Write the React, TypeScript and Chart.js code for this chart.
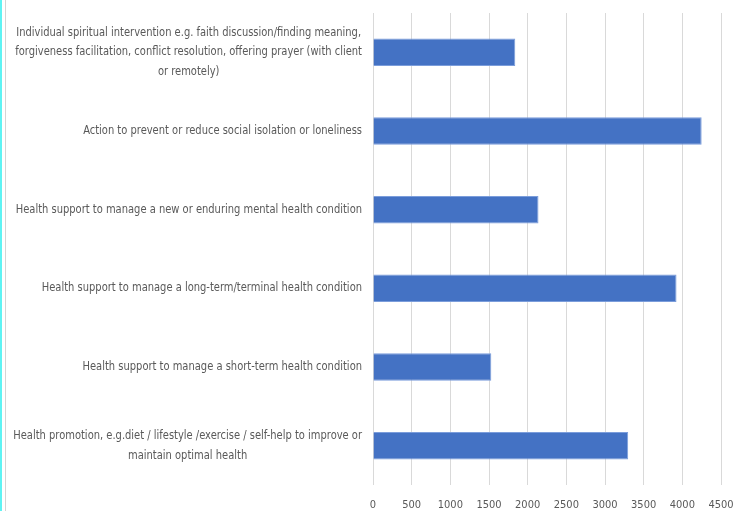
import React, { useEffect, useRef } from "react";
import { Chart, registerables } from "chart.js";

Chart.register(...registerables);

const categories: string[][] = [
  [
    "Individual spiritual intervention e.g. faith discussion/finding meaning,",
    "forgiveness facilitation, conflict resolution, offering prayer (with client",
    "or remotely)",
  ],
  ["Action to prevent or reduce social isolation or loneliness"],
  ["Health support to manage a new or enduring mental health condition"],
  ["Health support to manage a long-term/terminal health condition"],
  ["Health support to manage a short-term health condition"],
  [
    "Health promotion, e.g.diet / lifestyle /exercise / self-help to improve or",
    "maintain optimal health",
  ],
];

const counts: number[] = [1840, 4250, 2140, 3925, 1530, 3300];

const xTicks: number[] = [0, 500, 1000, 1500, 2000, 2500, 3000, 3500, 4000, 4500];

const FONT = "'DejaVu Sans Condensed', 'DejaVu Sans', sans-serif";
const TEXT = "#595959";
const H_SCALE = 0.92;

const labelPlugin = {
  id: "wrappedLabels",
  beforeDraw(chart: any) {
    const ctx = chart.ctx;
    ctx.save();
    ctx.fillStyle = "#5ff3f3";
    ctx.fillRect(0, 0, 2, chart.height);
    ctx.fillStyle = "#d4d4d4";
    ctx.fillRect(5, 0, 1, chart.height);
    ctx.restore();
  },
  afterDraw(chart: any) {
    const ctx = chart.ctx;
    const yScale = chart.scales.y;
    const rightEdge = yScale.right - 11;
    const lineH = 19.5;
    ctx.save();
    ctx.font = `12px ${FONT}`;
    ctx.fillStyle = TEXT;
    ctx.textBaseline = "middle";
    ctx.textAlign = "center";
    categories.forEach((lines, i) => {
      const yc = yScale.getPixelForTick(i);
      const widest = Math.max(...lines.map((l) => ctx.measureText(l).width)) * H_SCALE;
      const cx = rightEdge - widest / 2;
      const y0 = yc - ((lines.length - 1) * lineH) / 2;
      lines.forEach((l, j) => {
        ctx.save();
        ctx.translate(cx, y0 + j * lineH);
        ctx.scale(H_SCALE, 1);
        ctx.fillText(l, 0, 0);
        ctx.restore();
      });
    });
    ctx.restore();
  },
};

export default function App() {
  const ref = useRef<HTMLCanvasElement | null>(null);

  useEffect(() => {
    if (!ref.current) return;
    const chart = new Chart(ref.current, {
      type: "bar",
      data: {
        labels: categories.map((c) => c.join(" ")),
        datasets: [
          {
            data: counts,
            backgroundColor: "#4472C4",
            borderColor: "#7b9ddb",
            borderWidth: 1,
            categoryPercentage: 1,
            barPercentage: 0.35,
          },
        ],
      },
      options: {
        indexAxis: "y",
        animation: false,
        responsive: true,
        maintainAspectRatio: false,
        layout: { padding: { top: 13, right: 23, left: 0, bottom: 0 } },
        plugins: { legend: { display: false }, tooltip: { enabled: false } },
        scales: {
          x: {
            min: 0,
            max: 4500,
            afterBuildTicks: (scale: any) => {
              scale.ticks = xTicks.map((v) => ({ value: v }));
            },
            afterFit: (scale: any) => {
              scale.height = 26;
              scale.paddingLeft = 0;
              scale.paddingRight = 0;
            },
            grid: { color: "#d9d9d9", lineWidth: 1, drawTicks: false },
            border: { display: false },
            ticks: {
              padding: 14,
              color: TEXT,
              font: { size: 11, family: FONT },
              callback: (v: any) => String(v),
            },
          },
          y: {
            grid: { display: false },
            border: { display: false },
            ticks: { display: false },
            afterFit: (scale: any) => {
              scale.width = 373;
              scale.paddingTop = 0;
              scale.paddingBottom = 0;
            },
          },
        },
      },
      plugins: [labelPlugin],
    });
    return () => chart.destroy();
  }, []);

  return (
    <div style={{ position: "absolute", left: 0, top: 0, width: 744, height: 511, background: "#fff" }}>
      <canvas ref={ref} />
    </div>
  );
}
